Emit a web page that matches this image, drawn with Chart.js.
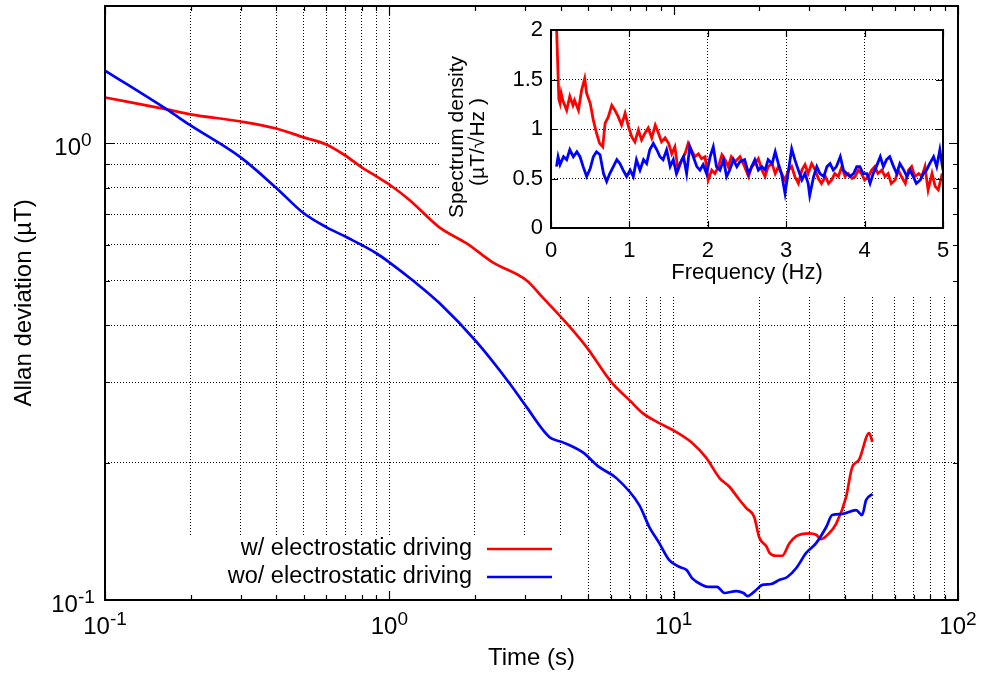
<!DOCTYPE html>
<html>
<head>
<meta charset="utf-8">
<script src="https://cdn.jsdelivr.net/npm/chart.js@4.4.1/dist/chart.umd.min.js"></script>
<style>
  html, body { margin: 0; padding: 0; background: #fff; }
  #wrap { position: relative; width: 981px; height: 680px; overflow: hidden; }
  #main { position: absolute; left: 0; top: 0; }
  #inset { position: absolute; left: 430px; top: 0; }
</style>
</head>
<body>
<div id="wrap">
  <canvas id="main" width="981" height="680" style="width:981px;height:680px"></canvas>
  <canvas id="inset" width="540" height="300" style="width:540px;height:300px"></canvas>
</div>
<script>
// ---- Allan deviation vs averaging time (main plot) ----
const tauRed = [0.1, 0.165, 0.2, 0.3, 0.4, 0.5, 0.6, 0.7, 0.8, 0.9, 1.0, 1.18, 1.5, 1.87, 2.31, 3.04, 3.46, 4.2, 4.94, 6.09, 6.99, 7.76, 8.9, 9.89, 11.6, 13.0, 14.5, 15.7, 17.0, 18.0, 19.2, 20.0, 21.2, 21.7, 22.9, 24.1, 25.5, 27.0, 30.0, 31.7, 33.0, 35.2, 37.3, 40.4, 42.4, 44.9, 48.7, 50.0];
const adevRed = [1.261, 1.187, 1.158, 1.117, 1.078, 1.031, 0.995, 0.941, 0.886, 0.847, 0.813, 0.751, 0.655, 0.604, 0.549, 0.501, 0.460, 0.404, 0.358, 0.298, 0.274, 0.257, 0.244, 0.236, 0.221, 0.205, 0.185, 0.177, 0.166, 0.159, 0.152, 0.137, 0.131, 0.127, 0.125, 0.125, 0.133, 0.138, 0.140, 0.139, 0.136, 0.140, 0.147, 0.168, 0.195, 0.203, 0.232, 0.222];

const tauBlue = [0.1, 0.165, 0.2, 0.3, 0.402, 0.496, 0.602, 0.708, 0.903, 1.0, 1.21, 1.5, 2.03, 2.65, 3.04, 3.66, 4.06, 4.78, 5.48, 6.29, 7.57, 8.21, 8.9, 9.65, 10.5, 11.1, 11.6, 12.6, 13.3, 14.2, 15.1, 16.6, 17.6, 18.2, 19.5, 20.5, 22.0, 23.5, 25.1, 27.0, 29.2, 31.7, 34.4, 36.1, 39.1, 43.8, 46.0, 47.5, 50.0];
const adevBlue = [1.444, 1.187, 1.095, 0.932, 0.797, 0.706, 0.655, 0.623, 0.574, 0.549, 0.501, 0.447, 0.367, 0.298, 0.2645, 0.2273, 0.2217, 0.2107, 0.1954, 0.1849, 0.1614, 0.1445, 0.1332, 0.1223, 0.1181, 0.1163, 0.1117, 0.1079, 0.1068, 0.1068, 0.1036, 0.1046, 0.1036, 0.1020, 0.1052, 0.1079, 0.1084, 0.1106, 0.1123, 0.1175, 0.1267, 0.1332, 0.1445, 0.1535, 0.1543, 0.1574, 0.1535, 0.1655, 0.1706];

const seriesLabels = ['w/ electrostatic driving', 'wo/ electrostatic driving'];
const seriesColors = ['#ff0000', '#0000ff'];

// decade labels (10^n) on the log axes, and grid significands inside each decade
const xDecades = [-1, 0, 1, 2];
const yDecades = [-1, 0];
const significands = [1, 2, 3, 4, 5, 6, 7, 8, 9];
const yTopValue = 2;

// ---- Spectrum density (inset) ----
const freqRed = [0.06, 0.1, 0.115, 0.13, 0.15, 0.2, 0.22, 0.24, 0.28, 0.3, 0.35, 0.39, 0.43, 0.455, 0.5, 0.54, 0.58, 0.62, 0.66, 0.69, 0.73, 0.775, 0.815, 0.86, 0.9, 0.945, 0.99, 1.03, 1.07, 1.115, 1.155, 1.2, 1.24, 1.285, 1.33, 1.37, 1.41, 1.455, 1.5, 1.54, 1.58, 1.62, 1.67, 1.71, 1.75, 1.79, 1.835, 1.88, 1.92, 1.965, 2.005, 2.05, 2.09, 2.135, 2.18, 2.22, 2.26, 2.3, 2.35, 2.41, 2.47, 2.52, 2.56, 2.6, 2.645, 2.69, 2.73, 2.77, 2.82, 2.86, 2.9, 2.94, 2.985, 3.03, 3.07, 3.11, 3.155, 3.2, 3.24, 3.28, 3.325, 3.37, 3.41, 3.45, 3.5, 3.54, 3.58, 3.62, 3.665, 3.71, 3.75, 3.79, 3.84, 3.88, 3.92, 3.96, 4.0, 4.05, 4.09, 4.13, 4.17, 4.22, 4.26, 4.3, 4.34, 4.39, 4.43, 4.47, 4.52, 4.56, 4.6, 4.64, 4.69, 4.73, 4.77, 4.81, 4.86, 4.9, 4.94, 4.99];
const psdRed = [2.3, 1.3, 1.26, 1.36, 1.29, 1.19, 1.26, 1.33, 1.24, 1.29, 1.19, 1.39, 1.51, 1.36, 1.26, 1.09, 0.96, 0.855, 0.82, 1.06, 1.12, 1.24, 1.19, 1.12, 1.04, 1.16, 1.02, 0.92, 0.87, 0.99, 0.89, 0.96, 1.01, 0.91, 1.04, 0.96, 0.87, 0.91, 0.855, 0.75, 0.82, 0.585, 0.69, 0.75, 0.855, 0.79, 0.72, 0.75, 0.70, 0.72, 0.485, 0.585, 0.55, 0.62, 0.74, 0.69, 0.62, 0.72, 0.67, 0.72, 0.62, 0.52, 0.62, 0.65, 0.70, 0.585, 0.52, 0.62, 0.65, 0.55, 0.62, 0.55, 0.485, 0.585, 0.62, 0.52, 0.45, 0.585, 0.64, 0.55, 0.65, 0.585, 0.50, 0.45, 0.52, 0.45, 0.485, 0.55, 0.52, 0.62, 0.52, 0.55, 0.50, 0.52, 0.585, 0.55, 0.485, 0.52, 0.585, 0.62, 0.55, 0.585, 0.52, 0.55, 0.45, 0.485, 0.585, 0.52, 0.45, 0.585, 0.62, 0.52, 0.55, 0.52, 0.62, 0.385, 0.55, 0.42, 0.385, 0.55];

const freqBlue = [0.07, 0.09, 0.115, 0.16, 0.2, 0.24, 0.285, 0.33, 0.37, 0.41, 0.455, 0.5, 0.54, 0.58, 0.625, 0.67, 0.71, 0.75, 0.795, 0.84, 0.88, 0.92, 0.965, 1.01, 1.05, 1.09, 1.135, 1.18, 1.22, 1.26, 1.305, 1.35, 1.39, 1.43, 1.475, 1.52, 1.56, 1.6, 1.645, 1.69, 1.73, 1.77, 1.815, 1.86, 1.9, 1.94, 1.985, 2.03, 2.07, 2.11, 2.155, 2.2, 2.24, 2.28, 2.325, 2.37, 2.41, 2.47, 2.52, 2.56, 2.6, 2.645, 2.69, 2.73, 2.77, 2.82, 2.86, 2.9, 2.94, 2.985, 3.03, 3.07, 3.11, 3.155, 3.2, 3.24, 3.28, 3.3, 3.35, 3.39, 3.43, 3.48, 3.52, 3.56, 3.6, 3.64, 3.69, 3.73, 3.77, 3.81, 3.86, 3.9, 3.94, 3.98, 4.03, 4.07, 4.11, 4.15, 4.2, 4.24, 4.28, 4.32, 4.37, 4.41, 4.45, 4.5, 4.54, 4.58, 4.62, 4.66, 4.71, 4.75, 4.79, 4.83, 4.88, 4.92, 4.96, 5.0];
const psdBlue = [0.62, 0.72, 0.64, 0.72, 0.69, 0.79, 0.72, 0.77, 0.72, 0.62, 0.52, 0.60, 0.72, 0.77, 0.74, 0.55, 0.47, 0.55, 0.62, 0.69, 0.65, 0.585, 0.52, 0.585, 0.52, 0.69, 0.585, 0.69, 0.65, 0.79, 0.855, 0.79, 0.72, 0.69, 0.79, 0.62, 0.69, 0.55, 0.65, 0.72, 0.55, 0.82, 0.72, 0.62, 0.585, 0.64, 0.55, 0.72, 0.82, 0.62, 0.585, 0.69, 0.52, 0.585, 0.69, 0.62, 0.67, 0.69, 0.55, 0.62, 0.69, 0.585, 0.62, 0.585, 0.69, 0.65, 0.77, 0.65, 0.55, 0.35, 0.585, 0.80, 0.69, 0.585, 0.485, 0.55, 0.45, 0.33, 0.52, 0.62, 0.55, 0.52, 0.62, 0.65, 0.585, 0.62, 0.72, 0.585, 0.55, 0.52, 0.55, 0.62, 0.62, 0.55, 0.55, 0.45, 0.55, 0.62, 0.72, 0.62, 0.69, 0.72, 0.62, 0.55, 0.65, 0.585, 0.52, 0.585, 0.52, 0.45, 0.485, 0.55, 0.585, 0.65, 0.72, 0.62, 0.79, 0.585];

const FONT = "'Liberation Sans', Arial, Helvetica, sans-serif";
Chart.defaults.font.family = FONT;
Chart.defaults.color = '#000';

const GRID_COLOR = '#000';
const xGridValues = [];
xDecades.forEach(e => significands.forEach(s => { const v = s * Math.pow(10, e); if (v <= 100 + 1e-9) xGridValues.push(+v.toPrecision(3)); }));
const yGridValues = [];
yDecades.forEach(e => significands.forEach(s => yGridValues.push(+(s * Math.pow(10, e)).toPrecision(3))));
yGridValues.push(yTopValue);

function pairs(xs, ys) { return xs.map((x, i) => ({ x: x, y: ys[i] })); }
function isDecade(v) { const l = Math.log10(v); return Math.abs(l - Math.round(l)) < 1e-6; }

// "10" with a raised exponent, centred on cx
function drawPower(ctx, exp, cx, baseline) {
  const baseFont = '24px ' + FONT, supFont = '19px ' + FONT;
  ctx.font = baseFont; const wb = ctx.measureText('10').width;
  ctx.font = supFont; const ws = ctx.measureText(String(exp)).width;
  const x0 = cx - (wb + ws) / 2;
  ctx.fillStyle = '#000'; ctx.textAlign = 'left'; ctx.textBaseline = 'alphabetic';
  ctx.font = baseFont; ctx.fillText('10', x0, baseline);
  ctx.font = supFont; ctx.fillText(String(exp), x0 + wb, baseline - 9);
}

const mainDecor = {
  id: 'mainDecor',
  beforeDatasetsDraw(chart) {
    // opaque panels behind the inset and the key
    const { ctx, chartArea: a } = chart;
    ctx.save();
    ctx.fillStyle = '#fff';
    ctx.fillRect(440, a.top + 1, a.right - 1 - 440, 297 - a.top - 1);
    ctx.fillRect(a.left + 1, 535, 570 - a.left - 1, a.bottom - 1 - 535);
    ctx.restore();
  },
  afterDatasetsDraw(chart) {
    const { ctx, chartArea: a, scales: { x, y } } = chart;
    ctx.save();
    // tick marks on all four sides
    ctx.strokeStyle = '#000'; ctx.lineWidth = 1.2;
    ctx.beginPath();
    xGridValues.forEach(v => {
      const px = Math.round(x.getPixelForValue(v)) + 0.5;
      const len = isDecade(v) ? 9 : 5;
      ctx.moveTo(px, a.bottom); ctx.lineTo(px, a.bottom - len);
      ctx.moveTo(px, a.top); ctx.lineTo(px, a.top + len);
    });
    yGridValues.forEach(v => {
      const py = Math.round(y.getPixelForValue(v)) + 0.5;
      const len = isDecade(v) ? 9 : 5;
      ctx.moveTo(a.left, py); ctx.lineTo(a.left + len, py);
      ctx.moveTo(a.right, py); ctx.lineTo(a.right - len, py);
    });
    ctx.stroke();
    // frame
    ctx.lineWidth = 2;
    ctx.strokeRect(a.left, a.top, a.right - a.left, a.bottom - a.top);
    // decade labels
    xDecades.forEach(e => drawPower(ctx, e, x.getPixelForValue(Math.pow(10, e)), a.bottom + 34));
    yDecades.forEach(e => drawPower(ctx, e, 73, y.getPixelForValue(Math.pow(10, e)) + 11.5));
    // key
    const rows = [549, 577];
    chart.data.datasets.forEach((ds, i) => {
      ctx.font = '23.5px ' + FONT; ctx.fillStyle = '#000';
      ctx.textAlign = 'right'; ctx.textBaseline = 'middle';
      ctx.fillText(ds.label, 472, rows[i]);
      ctx.strokeStyle = ds.borderColor; ctx.lineWidth = ds.borderWidth;
      ctx.beginPath(); ctx.moveTo(487, rows[i]); ctx.lineTo(552, rows[i]); ctx.stroke();
    });
    ctx.restore();
  }
};

new Chart(document.getElementById('main'), {
  type: 'line',
  data: {
    datasets: [
      { label: seriesLabels[0], data: pairs(tauRed, adevRed), borderColor: seriesColors[0], borderWidth: 2.7, pointRadius: 0, cubicInterpolationMode: 'monotone', fill: false, order: 1 },
      { label: seriesLabels[1], data: pairs(tauBlue, adevBlue), borderColor: seriesColors[1], borderWidth: 2.7, pointRadius: 0, cubicInterpolationMode: 'monotone', fill: false, order: 0 }
    ]
  },
  options: {
    responsive: false, animation: false, events: [],
    layout: { padding: { top: 6, right: 23, left: 0, bottom: 0 } },
    plugins: { legend: { display: false }, tooltip: { enabled: false } },
    scales: {
      x: {
        type: 'logarithmic', min: 0.1, max: 100,
        afterBuildTicks: s => { s.ticks = xGridValues.map(v => ({ value: v })); },
        afterFit: s => { s.height = 80; },
        ticks: { display: false },
        grid: { color: GRID_COLOR, lineWidth: 1, drawTicks: false },
        border: { display: false, dash: [1, 2] },
        title: { display: true, text: 'Time (s)', font: { size: 24 }, padding: { top: 0, bottom: 7 } }
      },
      y: {
        type: 'logarithmic', min: 0.1, max: yTopValue,
        afterBuildTicks: s => { s.ticks = yGridValues.map(v => ({ value: v })); },
        afterFit: s => { s.width = 105; },
        ticks: { display: false },
        grid: { color: GRID_COLOR, lineWidth: 1, drawTicks: false },
        border: { display: false, dash: [1, 2] },
        title: { display: true, text: 'Allan deviation (µT)', font: { size: 24 }, padding: { top: 10, bottom: 0 } }
      }
    }
  },
  plugins: [mainDecor]
});

const insetDecor = {
  id: 'insetDecor',
  afterDatasetsDraw(chart) {
    const { ctx, chartArea: a, scales: { x, y } } = chart;
    ctx.save();
    ctx.strokeStyle = '#000'; ctx.lineWidth = 1.2;
    ctx.beginPath();
    x.ticks.forEach(t => {
      const px = Math.round(x.getPixelForValue(t.value)) + 0.5;
      ctx.moveTo(px, a.bottom); ctx.lineTo(px, a.bottom - 7);
      ctx.moveTo(px, a.top); ctx.lineTo(px, a.top + 7);
    });
    y.ticks.forEach(t => {
      const py = Math.round(y.getPixelForValue(t.value)) + 0.5;
      ctx.moveTo(a.left, py); ctx.lineTo(a.left + 7, py);
      ctx.moveTo(a.right, py); ctx.lineTo(a.right - 7, py);
    });
    ctx.stroke();
    ctx.lineWidth = 2;
    ctx.strokeRect(a.left, a.top, a.right - a.left, a.bottom - a.top);
    // two-line vertical axis title
    ctx.fillStyle = '#000'; ctx.font = '21px ' + FONT;
    ctx.textAlign = 'center'; ctx.textBaseline = 'middle';
    ctx.translate(27, 137); ctx.rotate(-Math.PI / 2);
    ctx.fillText('Spectrum density', 0, 0);
    ctx.fillText('(µT/√Hz )', -5, 21);
    ctx.restore();
  }
};

new Chart(document.getElementById('inset'), {
  type: 'line',
  data: {
    datasets: [
      { label: seriesLabels[0], data: pairs(freqRed, psdRed), borderColor: seriesColors[0], borderWidth: 2.8, pointRadius: 0, tension: 0, fill: false, order: 1 },
      { label: seriesLabels[1], data: pairs(freqBlue, psdBlue), borderColor: seriesColors[1], borderWidth: 2.8, pointRadius: 0, tension: 0, fill: false, order: 0 }
    ]
  },
  options: {
    responsive: false, animation: false, events: [],
    layout: { padding: { top: 30, right: 27, left: 0, bottom: 0 } },
    plugins: { legend: { display: false }, tooltip: { enabled: false } },
    scales: {
      x: {
        type: 'linear', min: 0, max: 5,
        afterFit: s => { s.height = 72; },
        ticks: { stepSize: 1, font: { size: 22 }, padding: 10, maxRotation: 0, callback: v => String(v) },
        grid: { color: GRID_COLOR, lineWidth: 1, drawTicks: false },
        border: { display: false, dash: [1, 2] },
        title: { display: true, text: 'Frequency (Hz)', font: { size: 22 }, padding: { top: 0, bottom: 14 } }
      },
      y: {
        type: 'linear', min: 0, max: 2,
        afterFit: s => { s.width = 121; },
        ticks: { stepSize: 0.5, font: { size: 22 }, padding: 8, callback: v => String(v) },
        grid: { color: GRID_COLOR, lineWidth: 1, drawTicks: false },
        border: { display: false, dash: [1, 2] }
      }
    }
  },
  plugins: [insetDecor]
});
</script>
</body>
</html>
